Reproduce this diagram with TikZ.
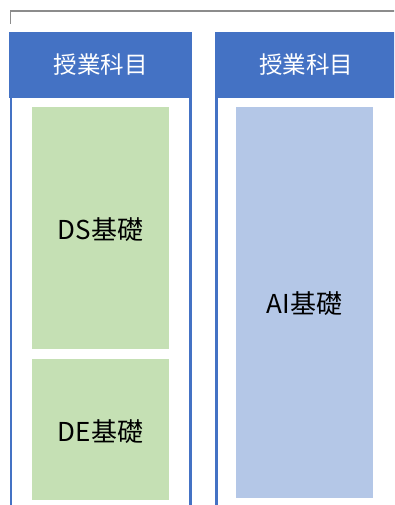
\documentclass[tikz,border=0pt]{standalone}
\usepackage{fontspec}
\newfontfamily\cjk{Noto Sans CJK JP}
\definecolor{hdr}{HTML}{4472C4}
\definecolor{grn}{HTML}{C5E0B4}
\definecolor{lbl}{HTML}{B4C7E7}
\begin{document}
\begin{tikzpicture}[x=1pt,y=-1pt,
  header/.style={fill=hdr,draw=none,text=white,font=\cjk\fontsize{23.5}{26}\selectfont},
  colframe/.style={draw=hdr,line width=2.6pt},
  subject/.style={draw=none,font=\cjk\fontsize{26}{30}\selectfont,text=black}]
\useasboundingbox (0,0) rectangle (394,505);
\clip (0,0) rectangle (394,505);
% top bracket
\draw[draw=gray!90,line width=1.3pt] (10.5,24) -- (10.5,11) -- (400,11);
% left column
\draw[colframe] (11,60) -- (11,510);
\draw[colframe] (190.5,60) -- (190.5,510);
\fill[hdr] (9,32) rectangle (192,98);
\node[header] (h1) at (100.5,65) {授業科目};
\fill[grn] (32,107) rectangle (169,349);
\node[subject] (ds) at (100.5,230) {DS基礎};
\fill[grn] (32,359) rectangle (169,500);
\node[subject] (de) at (100.5,432) {DE基礎};
% right column
\draw[colframe] (216.5,60) -- (216.5,510);
\fill[hdr] (215,32) rectangle (400,98);
\node[header] (h2) at (306,65) {授業科目};
\fill[lbl] (236,107) rectangle (373,498);
\node[subject] (ai) at (304.5,304) {AI基礎};
\end{tikzpicture}
\end{document}
